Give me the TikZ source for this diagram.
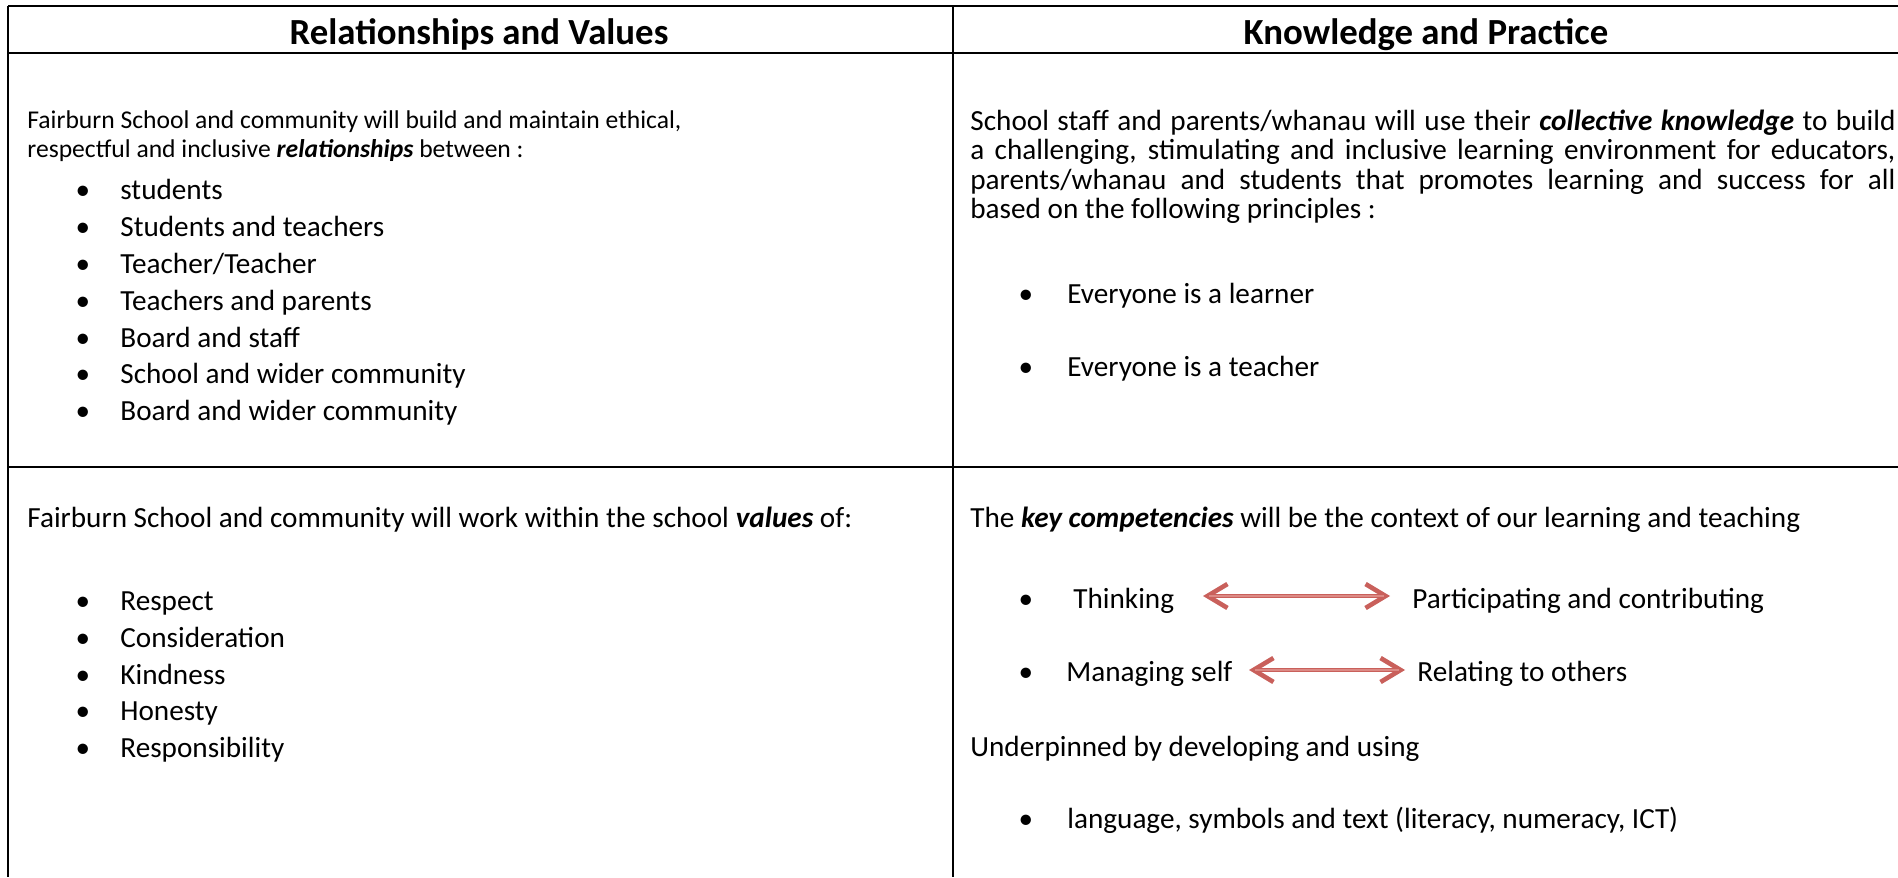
\documentclass[tikz,border=0pt]{standalone}
\usepackage{fontspec}
\setmainfont{Carlito}
\usetikzlibrary{arrows.meta}
\definecolor{kcred}{HTML}{C9605B}
\definecolor{kcpale}{HTML}{DC8A85}
\newcommand{\smallsize}{\fontsize{12.8pt}{15.4pt}\selectfont}
\newcommand{\bodysize}{\fontsize{14.6pt}{17.6pt}\selectfont}
\newcommand{\bi}[1]{\textbf{\textit{#1}}}
\begin{document}
\begin{tikzpicture}[x=0.5pt,y=-0.5pt,
  txt/.style={anchor=base west, inner sep=0pt, font=\bodysize},
  stxt/.style={anchor=base west, inner sep=0pt, font=\smallsize},
  bul/.style={anchor=base, inner sep=0pt, font=\bodysize},
  hdr/.style={anchor=base, inner sep=0pt, font=\fontsize{18.4pt}{22pt}\selectfont\bfseries},
  grid/.style={line width=1pt, black},
  kcarrow/.style={kcred, line width=2.3pt, {Straight Barb[length=10pt,width=12pt]}-{Straight Barb[length=10pt,width=12pt]}},
  kcinner/.style={kcpale, line width=0.6pt, shorten <=3pt, shorten >=3pt}]
\useasboundingbox (0,0) rectangle (1898,877);
\fill[white] (0,0) rectangle (1898,877);
% table rules
\draw[grid] (8,6) -- (1898,6);
\draw[grid] (8,53) -- (1898,53);
\draw[grid] (8,467) -- (1898,467);
\draw[grid] (8,6) -- (8,877);
\draw[grid] (953,6) -- (953,877);
% headers
\node[hdr] (h1) at (479,45) {Relationships and Values};
\node[hdr] (h2) at (1426,45) {Knowledge and Practice};
% top left
\node[stxt] (tl1) at (27,129) {Fairburn School and community will build and maintain ethical,};
\node[stxt] (tl2) at (27,158) {respectful and inclusive \bi{relationships} between :};
\foreach \y/\t [count=\i] in {199/{students},236/{Students and teachers},273/{Teacher/Teacher},310/{Teachers and parents},347/{Board and staff},383/{School and wider community},420/{Board and wider community}}{
  \node[bul] (tlb\i) at (83,\y) {•};
  \node[txt] (tli\i) at (120,\y) {\t};
}
% top right
\node[txt] (tr1) at (970,131) {\makebox[462.5pt][s]{School staff and parents/whanau will use their \bi{collective knowledge} to build}};
\node[txt] (tr2) at (970,160) {\makebox[462.5pt][s]{a challenging, stimulating and inclusive learning environment for educators,}};
\node[txt] (tr3) at (970,190) {\makebox[462.5pt][s]{parents/whanau and students that promotes learning and success for all}};
\node[txt] (tr4) at (970,219) {based on the following principles :};
\node[bul] (trb1) at (1026,303) {•};
\node[txt] (tri1) at (1067,303) {Everyone is a learner};
\node[bul] (trb2) at (1026,376) {•};
\node[txt] (tri2) at (1067,376) {Everyone is a teacher};
% bottom left
\node[txt] (bl1) at (27,527) {Fairburn School and community will work within the school \bi{values} of:};
\foreach \y/\t [count=\i] in {610/{Respect},647/{Consideration},684/{Kindness},720/{Honesty},757/{Responsibility}}{
  \node[bul] (blb\i) at (83,\y) {•};
  \node[txt] (bli\i) at (120,\y) {\t};
}
% bottom right
\node[txt] (br1) at (970,527) {The \bi{key competencies} will be the context of our learning and teaching};
\node[bul] (brb1) at (1026,608) {•};
\node[txt] (think) at (1073,608) {Thinking};
\node[txt] (partic) at (1412,608) {Participating and contributing};
\node[bul] (brb2) at (1026,681) {•};
\node[txt] (manage) at (1066,681) {Managing self};
\node[txt] (relate) at (1417,681) {Relating to others};
\node[txt] (br2) at (970,756) {Underpinned by developing and using};
\node[bul] (brb3) at (1026,828) {•};
\node[txt] (br3) at (1067,828) {language, symbols and text (literacy, numeracy, ICT)};
% arrows
\coordinate (a1s) at (1203,596);
\coordinate (a1e) at (1390,596);
\coordinate (a2s) at (1249,670);
\coordinate (a2e) at (1405,670);
\draw[kcarrow] (a1s) -- (a1e);
\draw[kcinner] (a1s) -- (a1e);
\draw[kcarrow] (a2s) -- (a2e);
\draw[kcinner] (a2s) -- (a2e);
\end{tikzpicture}
\end{document}
